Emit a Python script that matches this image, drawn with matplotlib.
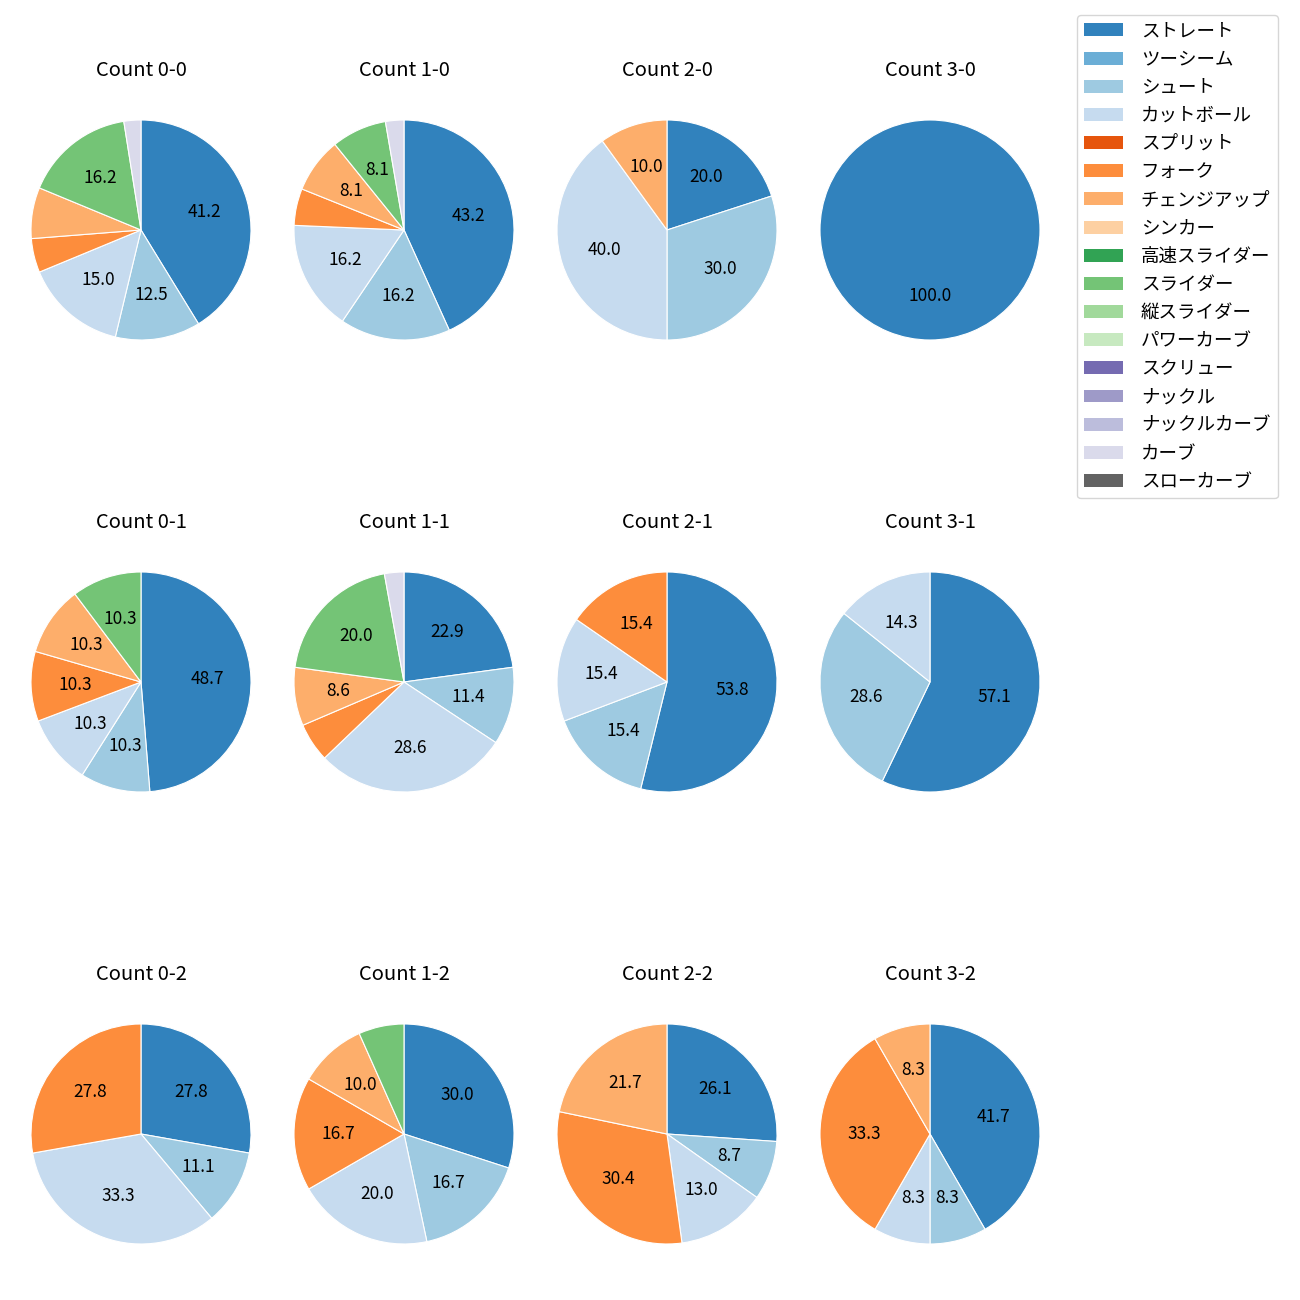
import matplotlib
matplotlib.use("Agg")
import matplotlib.pyplot as plt
from matplotlib.patches import Patch

plt.rcParams['font.family'] = ['Noto Sans CJK JP', 'DejaVu Sans']
plt.rcParams['font.size'] = 12

pitch_types = ['ストレート', 'ツーシーム', 'シュート', 'カットボール', 'スプリット', 'フォーク',
               'チェンジアップ', 'シンカー', '高速スライダー', 'スライダー', '縦スライダー',
               'パワーカーブ', 'スクリュー', 'ナックル', 'ナックルカーブ', 'カーブ', 'スローカーブ']

# pitch counts per ball-strike count, in pitch_types order
count_0_0 = [33, 0, 10, 12, 0, 4, 6, 0, 0, 13, 0, 0, 0, 0, 0, 2, 0]
count_1_0 = [16, 0, 6, 6, 0, 2, 3, 0, 0, 3, 0, 0, 0, 0, 0, 1, 0]
count_2_0 = [2, 0, 3, 4, 0, 0, 1, 0, 0, 0, 0, 0, 0, 0, 0, 0, 0]
count_3_0 = [1, 0, 0, 0, 0, 0, 0, 0, 0, 0, 0, 0, 0, 0, 0, 0, 0]
count_0_1 = [19, 0, 4, 4, 0, 4, 4, 0, 0, 4, 0, 0, 0, 0, 0, 0, 0]
count_1_1 = [8, 0, 4, 10, 0, 2, 3, 0, 0, 7, 0, 0, 0, 0, 0, 1, 0]
count_2_1 = [7, 0, 2, 2, 0, 2, 0, 0, 0, 0, 0, 0, 0, 0, 0, 0, 0]
count_3_1 = [4, 0, 2, 1, 0, 0, 0, 0, 0, 0, 0, 0, 0, 0, 0, 0, 0]
count_0_2 = [5, 0, 2, 6, 0, 5, 0, 0, 0, 0, 0, 0, 0, 0, 0, 0, 0]
count_1_2 = [9, 0, 5, 6, 0, 5, 3, 0, 0, 2, 0, 0, 0, 0, 0, 0, 0]
count_2_2 = [6, 0, 2, 3, 0, 7, 5, 0, 0, 0, 0, 0, 0, 0, 0, 0, 0]
count_3_2 = [5, 0, 1, 1, 0, 4, 1, 0, 0, 0, 0, 0, 0, 0, 0, 0, 0]

grid = [[('0-0', count_0_0), ('1-0', count_1_0), ('2-0', count_2_0), ('3-0', count_3_0)],
        [('0-1', count_0_1), ('1-1', count_1_1), ('2-1', count_2_1), ('3-1', count_3_1)],
        [('0-2', count_0_2), ('1-2', count_1_2), ('2-2', count_2_2), ('3-2', count_3_2)]]

cmap = plt.get_cmap('tab20c')
colors = [cmap(i) for i in range(len(pitch_types))]


def autopct(pct):
    return '%.1f' % pct if pct >= 8 else ''


W = H = 1300
fig = plt.figure(figsize=(13, 13), dpi=100)

size = 275  # axes side in px (pie radius 110 with xlim +-1.25)
for i, row in enumerate(grid):
    for j, (name, counts) in enumerate(row):
        cx = 141 + 263 * j
        cy = 230 + 452 * i
        ax = fig.add_axes([(cx - size / 2) / W, 1 - (cy + size / 2) / H, size / W, size / H])
        vals = [c for c in counts if c > 0]
        cols = [colors[k] for k, c in enumerate(counts) if c > 0]
        ax.pie(vals, colors=cols, autopct=autopct, startangle=90, counterclock=False,
               pctdistance=0.6, wedgeprops={'edgecolor': 'white', 'linewidth': 0.8},
               textprops={'fontsize': 12.5})
        ax.set_title('Count ' + name, fontsize=14.5, pad=12)

handles = [Patch(facecolor=colors[k], label=p) for k, p in enumerate(pitch_types)]
fig.legend(handles=handles, loc='upper left', bbox_to_anchor=(1077 / W, 1 - 15 / H),
           borderaxespad=0, fontsize=13.3, handlelength=2.1, handletextpad=0.95,
           labelspacing=0.55)

fig.savefig('out.png', dpi=100)
plt.close(fig)
